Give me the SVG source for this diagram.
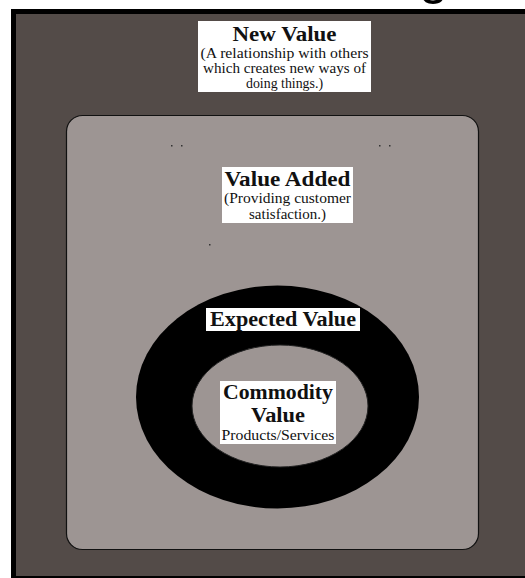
<svg xmlns="http://www.w3.org/2000/svg" width="525" height="578" viewBox="0 0 525 578">
<style>
.lbl{fill:#fff}
.t{font-family:"Liberation Serif","DejaVu Serif",serif;fill:#111;text-anchor:middle}
.b{font-weight:bold}
.dot{fill:#333}
</style>
<rect width="525" height="578" fill="#fff"/>
<text x="419" y="-7" font-family="Liberation Sans,Arial,sans-serif" font-size="52" fill="#000">g</text>
<g id="new-value">
<rect x="13.5" y="11.5" width="520" height="567" fill="#534b48" stroke="#000" stroke-width="5"/>
<rect class="lbl" x="198" y="21" width="173" height="71"/>
<text class="t b" x="284.5" y="41" font-size="20" textLength="104" lengthAdjust="spacingAndGlyphs">New Value</text>
<text class="t" x="284.5" y="58" font-size="14.5" textLength="168" lengthAdjust="spacingAndGlyphs">(A relationship with others</text>
<text class="t" x="284.5" y="73" font-size="14.5" textLength="163" lengthAdjust="spacingAndGlyphs">which creates new ways of</text>
<text class="t" x="284.5" y="88" font-size="14.5" textLength="77" lengthAdjust="spacingAndGlyphs">doing things.)</text>
</g>
<g id="value-added">
<rect x="66.5" y="115.5" width="412" height="434" rx="16" fill="#9d9593" stroke="#111" stroke-width="1.2"/>
<rect class="dot" x="171" y="145" width="1.5" height="1.5"/>
<rect class="dot" x="181" y="145" width="1.5" height="1.5"/>
<rect class="dot" x="379" y="145" width="1.5" height="1.5"/>
<rect class="dot" x="389" y="145" width="1.5" height="1.5"/>
<rect class="dot" x="209" y="244" width="1.5" height="1.5"/>
<rect class="lbl" x="222" y="167" width="131" height="56"/>
<text class="t b" x="287.5" y="186" font-size="20" textLength="126" lengthAdjust="spacingAndGlyphs">Value Added</text>
<text class="t" x="287.5" y="203" font-size="14.5" textLength="127" lengthAdjust="spacingAndGlyphs">(Providing customer</text>
<text class="t" x="287.5" y="219" font-size="14.5" textLength="77" lengthAdjust="spacingAndGlyphs">satisfaction.)</text>
</g>
<g id="expected-value">
<ellipse cx="277.5" cy="397" rx="141.5" ry="111.5" fill="#000"/>
<rect class="lbl" x="206" y="308" width="154" height="23"/>
<text class="t b" x="283" y="326" font-size="20" textLength="146" lengthAdjust="spacingAndGlyphs">Expected Value</text>
</g>
<g id="commodity-value">
<ellipse cx="280" cy="406" rx="88" ry="61" fill="#9d9593" stroke="#222" stroke-width="1"/>
<rect class="lbl" x="220" y="381" width="116" height="63"/>
<text class="t b" x="278" y="399" font-size="20" textLength="110" lengthAdjust="spacingAndGlyphs">Commodity</text>
<text class="t b" x="278" y="422" font-size="20" textLength="54" lengthAdjust="spacingAndGlyphs">Value</text>
<text class="t" x="278" y="440" font-size="14" textLength="113" lengthAdjust="spacingAndGlyphs">Products/Services</text>
</g>
<g id="connectors"/>
</svg>
